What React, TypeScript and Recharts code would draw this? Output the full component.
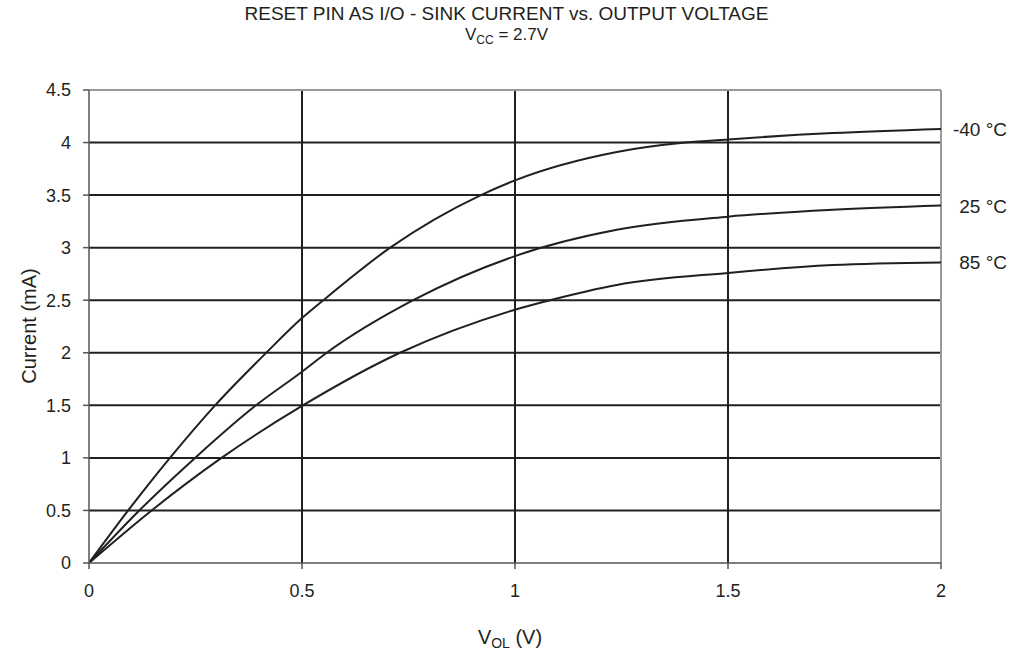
import React from "react";
import { LineChart, Line, XAxis, YAxis, ReferenceLine } from "recharts";

const xTicks = [0, 0.5, 1, 1.5, 2];
const yTicks = [0, 0.5, 1, 1.5, 2, 2.5, 3, 3.5, 4, 4.5];
const gridX = [0.5, 1, 1.5];
const gridY = [0.5, 1, 1.5, 2, 2.5, 3, 3.5, 4];

const vM40 = [0, 0.092, 0.19, 0.296, 0.416, 0.5, 0.55, 0.707, 0.92, 1.0, 1.239, 1.4, 1.5, 1.746, 2.0];
const iM40 = [0, 0.5, 1.0, 1.5, 2.0, 2.33, 2.5, 3.0, 3.5, 3.64, 3.91, 4.0, 4.03, 4.09, 4.13];

const v25 = [0, 0.118, 0.249, 0.392, 0.5, 0.558, 0.761, 1.0, 1.239, 1.5, 1.746, 2.0];
const i25 = [0, 0.5, 1.0, 1.5, 1.82, 2.0, 2.5, 2.92, 3.17, 3.295, 3.36, 3.4];

const v85 = [0, 0.147, 0.311, 0.5, 0.73, 1.0, 1.082, 1.239, 1.5, 1.746, 2.0];
const i85 = [0, 0.5, 1.0, 1.494, 2.0, 2.41, 2.5, 2.645, 2.76, 2.835, 2.86];

const seriesLabels = ["-40 °C", "25 °C", "85 °C"];

const zip = (v: number[], i: number[]) => v.map((x, k) => ({ v: x, i: i[k] }));
const dataM40 = zip(vM40, iM40);
const data25 = zip(v25, i25);
const data85 = zip(v85, i85);

const FONT = "'Liberation Sans', Arial, sans-serif";
const INK = "#231f20";

const endLabel = (text: string, n: number) => (props: any) => {
  if (props.index !== n - 1) return null;
  return (
    <text x={1007} y={props.y} dy={7} textAnchor="end" fontFamily={FONT} fontSize={19} fill={INK}>
      {text}
    </text>
  );
};

export default function App() {
  return (
    <div style={{ position: "absolute", left: 0, top: 0, width: 1013, height: 651, background: "#fff", fontFamily: FONT }}>
      <div style={{ position: "absolute", left: 0, top: 4, width: 1013, textAlign: "center", fontSize: 19, color: INK, lineHeight: "20px", whiteSpace: "nowrap" }}>
        RESET PIN AS I/O - SINK CURRENT vs. OUTPUT VOLTAGE
      </div>
      <div style={{ position: "absolute", left: 0, top: 25, width: 1013, textAlign: "center", fontSize: 17, color: INK, lineHeight: "20px", whiteSpace: "nowrap" }}>
        V<span style={{ fontSize: 12, position: "relative", top: 4 }}>CC</span> = 2.7V
      </div>
      <div style={{ position: "absolute", left: 0, top: 627, width: 1020, textAlign: "center", fontSize: 20, color: INK, lineHeight: "20px", whiteSpace: "nowrap" }}>
        V<span style={{ fontSize: 14, position: "relative", top: 4 }}>OL</span> (V)
      </div>
      <div
        style={{
          position: "absolute",
          left: 29,
          top: 326,
          fontSize: 20,
          color: INK,
          whiteSpace: "nowrap",
          transform: "translate(-50%, -50%) rotate(-90deg)",
        }}
      >
        Current (mA)
      </div>
      <div style={{ position: "absolute", left: 0, top: 0 }}>
        <LineChart width={1013} height={651} data={dataM40} margin={{ top: 90, right: 72, left: 0, bottom: 0 }}>
          <XAxis
            dataKey="v"
            type="number"
            domain={[0, 2]}
            ticks={xTicks}
            allowDataOverflow
            height={88}
            tickSize={6}
            tickMargin={15}
            stroke="#555"
            strokeWidth={1.5}
            tick={{ fill: INK, fontSize: 18, fontFamily: FONT }}
            tickFormatter={(v: number) => String(v)}
          />
          <YAxis
            type="number"
            domain={[0, 4.5]}
            ticks={yTicks}
            allowDataOverflow
            width={89}
            tickSize={6}
            tickMargin={12}
            stroke="#555"
            strokeWidth={1.5}
            tick={{ fill: INK, fontSize: 18, fontFamily: FONT }}
            tickFormatter={(v: number) => String(v)}
          />
          {gridY.map((y) => (
            <ReferenceLine key={"gy" + y} y={y} stroke={INK} strokeWidth={2} />
          ))}
          {gridX.map((x) => (
            <ReferenceLine key={"gx" + x} x={x} stroke={INK} strokeWidth={2} />
          ))}
          <ReferenceLine y={4.5} stroke="#999" strokeWidth={2} />
          <ReferenceLine x={2} stroke="#999" strokeWidth={2} />
          <Line data={dataM40} dataKey="i" type="monotone" stroke={INK} strokeWidth={2} dot={false} isAnimationActive={false} label={endLabel(seriesLabels[0], dataM40.length)} />
          <Line data={data25} dataKey="i" type="monotone" stroke={INK} strokeWidth={2} dot={false} isAnimationActive={false} label={endLabel(seriesLabels[1], data25.length)} />
          <Line data={data85} dataKey="i" type="monotone" stroke={INK} strokeWidth={2} dot={false} isAnimationActive={false} label={endLabel(seriesLabels[2], data85.length)} />
        </LineChart>
      </div>
    </div>
  );
}
